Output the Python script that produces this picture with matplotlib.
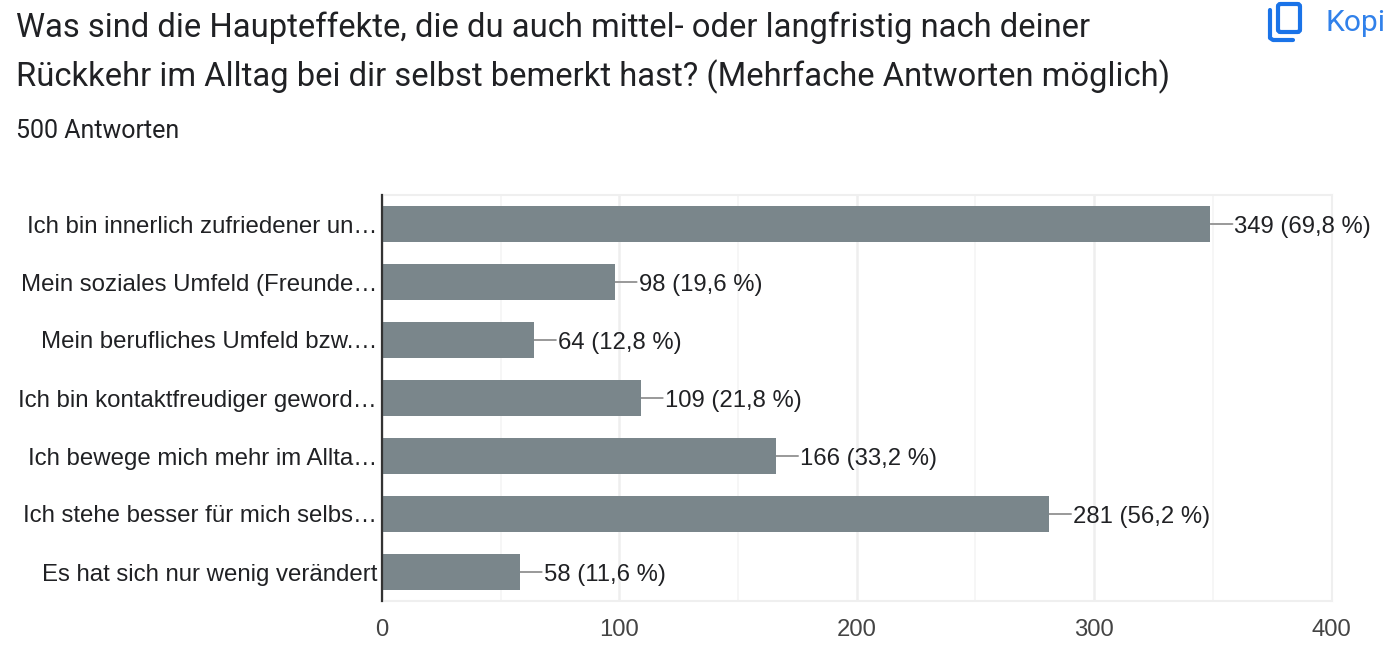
import matplotlib
matplotlib.use('Agg')
import matplotlib.pyplot as plt
from matplotlib.patches import FancyBboxPatch
from matplotlib.ticker import MultipleLocator

W, H = 1386, 650

labels = ['Ich bin innerlich zufriedener un…',
          'Mein soziales Umfeld (Freunde…',
          'Mein berufliches Umfeld bzw.…',
          'Ich bin kontaktfreudiger geword…',
          'Ich bewege mich mehr im Allta…',
          'Ich stehe besser für mich selbs…',
          'Es hat sich nur wenig verändert']
values = [349, 98, 64, 109, 166, 281, 58]
percents = ['69,8', '19,6', '12,8', '21,8', '33,2', '56,2', '11,6']
xticks = [0, 100, 200, 300, 400]

title_1 = 'Was sind die Haupteffekte, die du auch mittel- oder langfristig nach deiner'
title_2 = 'Rückkehr im Alltag bei dir selbst bemerkt hast? (Mehrfache Antworten möglich)'
subtitle = '500 Antworten'

BAR = '#7a868b'
BLUE = '#1a73e8'

def fx(px):
    return px / W

def fy(px):
    return 1 - px / H

fig = plt.figure(figsize=(W / 100, H / 100), dpi=100, facecolor='white')

# header
fig.text(fx(16), fy(37), title_1, family='Roboto', fontsize=23.6, color='#202124', va='baseline')
fig.text(fx(16), fy(86), title_2, family='Roboto', fontsize=23.6, color='#202124', va='baseline')
fig.text(fx(16), fy(138), subtitle, family='Roboto', fontsize=18, color='#202124', va='baseline')
fig.text(fx(1326), fy(31), 'Kopi', family='Roboto', fontsize=21.5, color=BLUE, va='baseline', alpha=0.9)

# copy icon
icon = fig.add_axes([0, 0, 1, 1], facecolor='none')
icon.set_xlim(0, W)
icon.set_ylim(H, 0)
icon.axis('off')
icon.add_patch(FancyBboxPatch((1278, 4), 22, 28, boxstyle='round,pad=0,rounding_size=2.5',
                              fill=False, ec=BLUE, lw=3))
icon.plot([1270, 1270, 1273, 1293], [10, 38, 40, 40], color=BLUE, lw=3, solid_capstyle='round')

# chart
ax = fig.add_axes([fx(382), fy(601), fx(1331.5) - fx(382), (601 - 195) / H])
ypos = list(range(len(labels)))
ax.barh(ypos, values, height=0.62, color=BAR, zorder=3)

for y, v, p in zip(ypos, values, percents):
    ax.annotate('', xy=(v, y), xytext=(22, 0), textcoords='offset pixels',
                arrowprops=dict(arrowstyle='-', color='#999999', lw=1.4, shrinkA=0, shrinkB=0), zorder=2)
    ax.annotate(f'{v} ({p} %)', xy=(v, y), xytext=(24, 0), textcoords='offset pixels',
                family='Liberation Sans', fontsize=17.2, color='#202124', va='center_baseline', ha='left',
                annotation_clip=False)

ax.set_xlim(0, 400)
ax.set_ylim(len(labels) - 0.5, -0.5)
ax.set_yticks(ypos)
ax.set_yticklabels(labels, family='Liberation Sans', fontsize=17.3, color='#202124')
ax.set_xticks(xticks)
ax.xaxis.set_minor_locator(MultipleLocator(50))
ax.tick_params(axis='both', which='both', length=0)
ax.tick_params(axis='y', pad=3.5)
ax.tick_params(axis='x', pad=13)
for t in ax.get_xticklabels():
    t.set_family('Liberation Sans')
    t.set_fontsize(17.2)
    t.set_color('#444444')

ax.grid(axis='x', which='major', color='#eeeeee', lw=1.8, zorder=0)
ax.grid(axis='x', which='minor', color='#f6f6f6', lw=1.4, zorder=0)
ax.set_axisbelow(True)
for side in ['top', 'right', 'bottom']:
    ax.spines[side].set_color('#efefef')
    ax.spines[side].set_linewidth(1.5)
ax.spines['left'].set_color('#333333')
ax.spines['left'].set_linewidth(1.6)
ax.spines['left'].set_zorder(5)

fig.savefig('out.png', dpi=100, facecolor='white')
